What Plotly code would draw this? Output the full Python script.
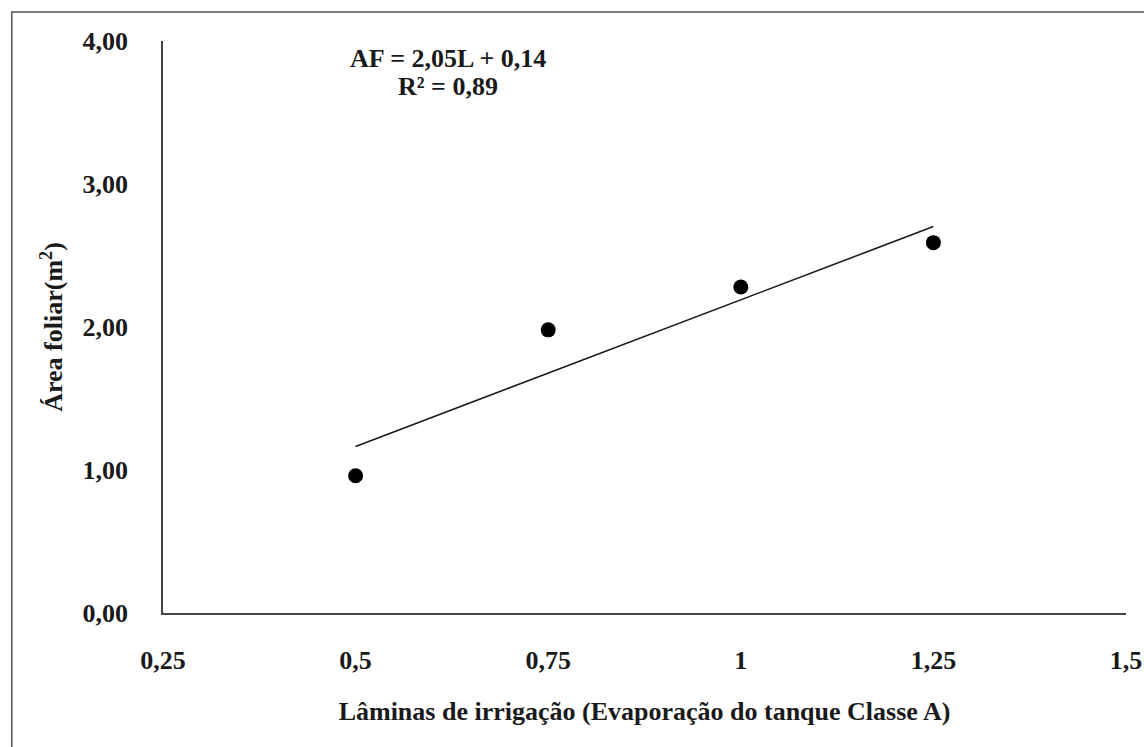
import plotly.graph_objects as go

# Dados: lâminas de irrigação x área foliar
laminas = [0.5, 0.75, 1.0, 1.25]
area_foliar = [0.96, 1.98, 2.28, 2.59]

# Coeficientes da regressão linear (AF = a*L + b)
coef_a = 2.05
coef_b = 0.14
r2 = 0.89

x_ticks = [0.25, 0.5, 0.75, 1.0, 1.25, 1.5]
x_tick_text = ["0,25", "0,5", "0,75", "1", "1,25", "1,5"]
y_ticks = [0, 1, 2, 3, 4]
y_tick_text = ["0,00", "1,00", "2,00", "3,00", "4,00"]

fonte = "Liberation Serif"
tam = 26

# Linha de tendência a partir da equação
x_linha = [min(laminas), max(laminas)]
y_linha = [coef_a * x + coef_b for x in x_linha]

fig = go.Figure()

fig.add_trace(go.Scatter(
    x=x_linha, y=y_linha, mode="lines",
    line=dict(color="#1a1a1a", width=1.6),
    showlegend=False, hoverinfo="skip",
))

fig.add_trace(go.Scatter(
    x=laminas, y=area_foliar, mode="markers",
    marker=dict(color="#000000", size=15),
    showlegend=False,
))

fig.update_layout(
    width=1144, height=747,
    margin=dict(l=163, r=18, t=41, b=134),
    paper_bgcolor="white", plot_bgcolor="white",
    font=dict(family=fonte, color="#1a1a1a", size=tam),
    xaxis=dict(
        range=[0.25, 1.5], tickvals=x_ticks, ticktext=x_tick_text,
        showgrid=False, zeroline=False, showline=True, automargin=False,
        linecolor="#444444", linewidth=1.5, ticks="",
        tickfont=dict(family=fonte, size=tam, weight="bold"),
        ticklabelstandoff=23,
        title=dict(text="<b>Lâminas de irrigação (Evaporação do tanque Classe A)</b>",
                   font=dict(family=fonte, size=tam), standoff=28),
    ),
    yaxis=dict(
        range=[0, 4], tickvals=y_ticks, ticktext=y_tick_text,
        showgrid=False, zeroline=False, showline=True, automargin=False,
        linecolor="#444444", linewidth=1.5, ticks="",
        tickfont=dict(family=fonte, size=tam, weight="bold"),
        ticklabelstandoff=28,
        title=dict(text="<b>Área foliar(m<sup>2</sup>)</b>",
                   font=dict(family=fonte, size=tam), standoff=12),
    ),
)

# Equação e R²
fig.add_annotation(
    xref="paper", yref="paper", x=0.296, y=0.97,
    text=f"<b>AF = {coef_a:.2f}L + {coef_b:.2f}</b>".replace(".", ","),
    showarrow=False, xanchor="center", yanchor="middle",
    font=dict(family=fonte, size=tam, color="#1a1a1a"),
)
fig.add_annotation(
    xref="paper", yref="paper", x=0.296, y=0.921,
    text=f"<b>R² = {r2:.2f}</b>".replace(".", ","),
    showarrow=False, xanchor="center", yanchor="middle",
    font=dict(family=fonte, size=tam, color="#1a1a1a"),
)

# Moldura externa do gráfico
fig.add_shape(
    type="rect", xref="paper", yref="paper",
    x0=-0.157, x1=1.05, y0=-0.26, y1=1.0507,
    line=dict(color="#555555", width=1.5),
)

# tirar a margem padrão do body para a figura ocupar a janela toda
fig.write_html(
    "out.html",
    config={"displayModeBar": False},
    post_script="document.body.style.margin='0';",
)
